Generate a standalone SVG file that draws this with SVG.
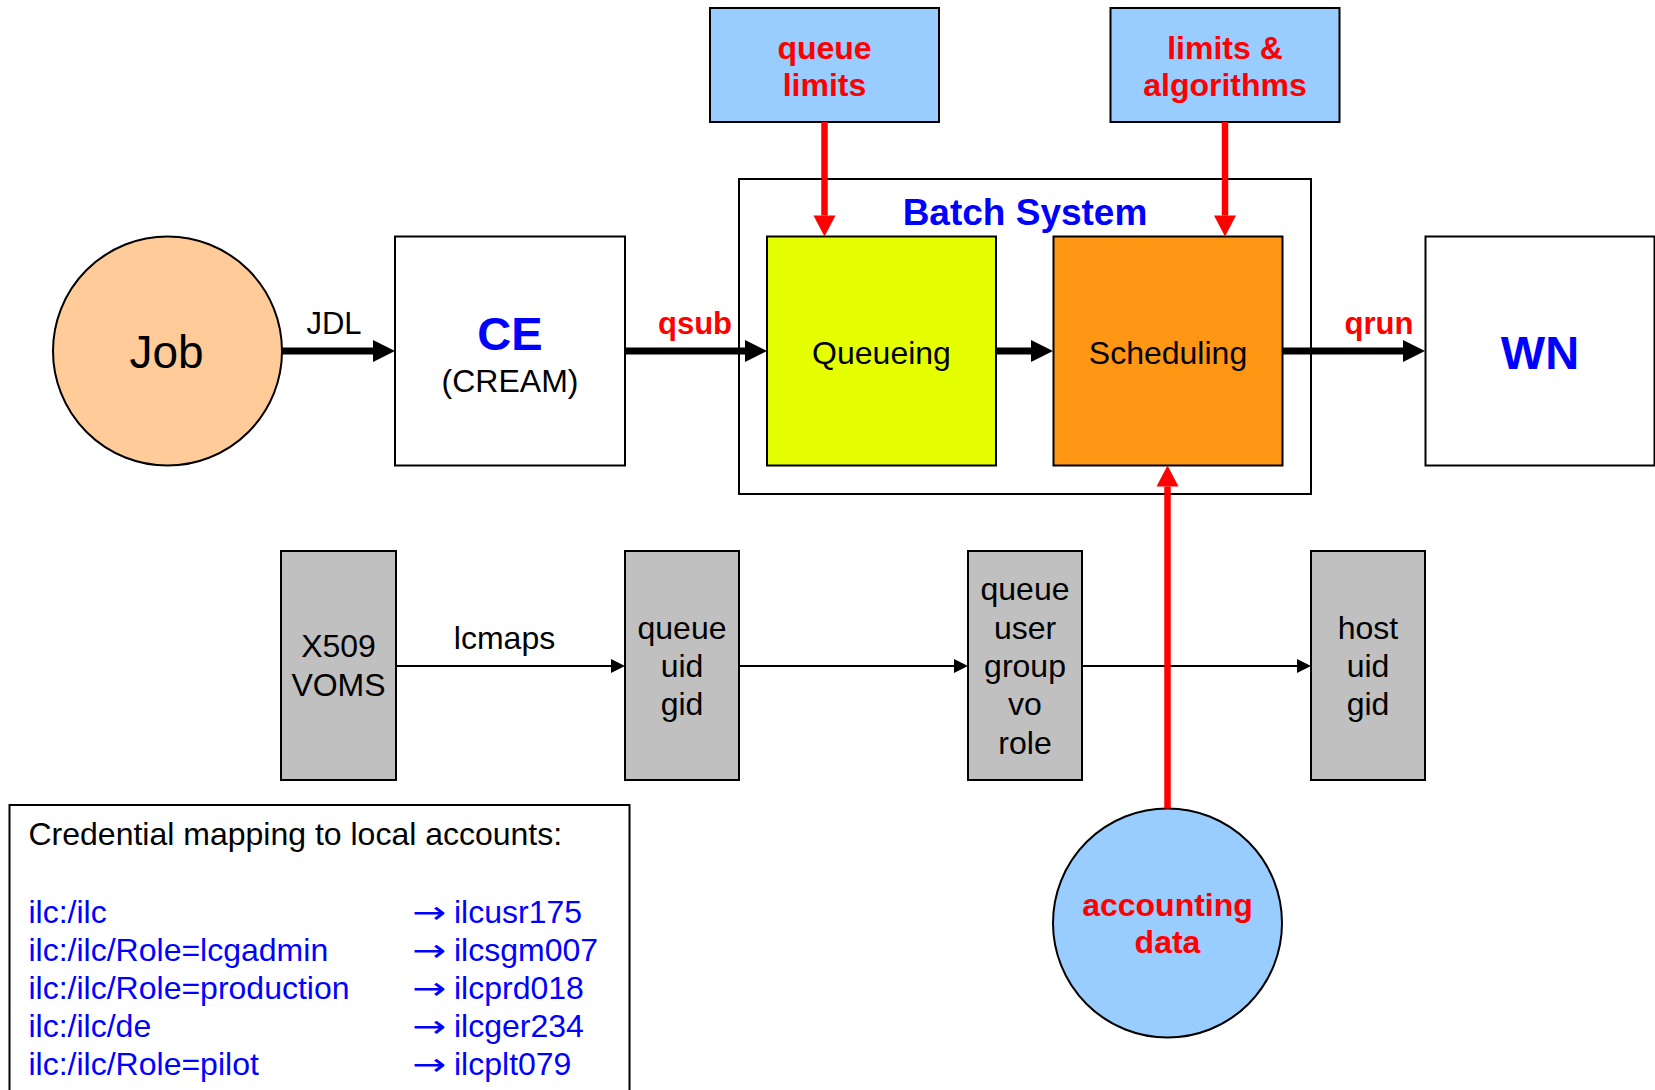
<svg xmlns="http://www.w3.org/2000/svg" width="1655" height="1090" viewBox="0 0 1655 1090">
<style>
text{font-family:"Liberation Sans",Arial,sans-serif;}
.box{stroke:#000;stroke-width:2;}
.white{fill:#fff;}
.gray{fill:#c0c0c0;}
.lb{fill:#99ccff;}
.t32{font-size:32px;fill:#000;}
.big{font-size:47px;font-weight:bold;fill:#0000ff;}
.red{font-size:32px;font-weight:bold;fill:#ff0000;}
.blue{font-size:32px;fill:#0000ff;}
.arr{font-family:"DejaVu Sans",sans-serif;font-size:31px;fill:#0000ff;}
.thick{stroke:#000;stroke-width:7;fill:none;}
.redl{stroke:#ff0000;stroke-width:6.5;fill:none;}
.thin{stroke:#000;stroke-width:2;fill:none;}
</style>
<defs>
<marker id="mBlack" markerUnits="userSpaceOnUse" markerWidth="22" markerHeight="24" refX="0" refY="11" orient="auto" overflow="visible"><path d="M0,0 L22,11 L0,22 z" fill="#000"/></marker>
<marker id="mRed" markerUnits="userSpaceOnUse" markerWidth="22" markerHeight="24" refX="0" refY="11" orient="auto" overflow="visible"><path d="M0,0 L21,11 L0,22 z" fill="#ff0000"/></marker>
<marker id="mThin" markerUnits="userSpaceOnUse" markerWidth="16" markerHeight="16" refX="0" refY="7" orient="auto" overflow="visible"><path d="M0,0 L14,7 L0,14 z" fill="#000"/></marker>
</defs>
<rect width="1655" height="1090" fill="#fff"/>

<g id="batch-system">
<rect class="box white" x="739" y="179" width="572" height="315"/>
<text x="1025" y="225" text-anchor="middle" style="font-size:37px;font-weight:bold;fill:#0000ff">Batch System</text>
</g>
<g id="queue-limits">
<rect class="box lb" x="710" y="8" width="229" height="114"/>
<text class="red" x="824.5" y="59" text-anchor="middle">queue</text>
<text class="red" x="824.5" y="96" text-anchor="middle">limits</text>
</g>
<g id="limits-algorithms">
<rect class="box lb" x="1110.5" y="8" width="229" height="114"/>
<text class="red" x="1225" y="59" text-anchor="middle">limits &amp;</text>
<text class="red" x="1225" y="96" text-anchor="middle">algorithms</text>
</g>
<g id="job">
<circle class="box" cx="167.5" cy="351" r="114.5" fill="#ffcc99"/>
<text x="166.5" y="368" text-anchor="middle" style="font-size:46px;fill:#000">Job</text>
</g>
<g id="ce">
<rect class="box white" x="395" y="236.5" width="230" height="229"/>
<text class="big" x="510" y="350" text-anchor="middle">CE</text>
<text class="t32" x="510" y="392" text-anchor="middle">(CREAM)</text>
</g>
<g id="queueing">
<rect class="box" x="767" y="236.5" width="229" height="229" fill="#e5ff00"/>
<text class="t32" x="881.5" y="364" text-anchor="middle">Queueing</text>
</g>
<g id="scheduling">
<rect class="box" x="1053.5" y="236.5" width="229" height="229" fill="#ff9714"/>
<text class="t32" x="1168" y="364" text-anchor="middle">Scheduling</text>
</g>
<g id="wn">
<rect class="box white" x="1425.5" y="236.5" width="229" height="229"/>
<text class="big" x="1540" y="369" text-anchor="middle">WN</text>
</g>
<g id="x509">
<rect class="box gray" x="281" y="551" width="115" height="229"/>
<text class="t32" x="338.5" y="657" text-anchor="middle">X509</text>
<text class="t32" x="338.5" y="696" text-anchor="middle">VOMS</text>
</g>
<g id="queue-uid-gid">
<rect class="box gray" x="625" y="551" width="114" height="229"/>
<text class="t32" x="682" y="638.5" text-anchor="middle">queue</text>
<text class="t32" x="682" y="677" text-anchor="middle">uid</text>
<text class="t32" x="682" y="715" text-anchor="middle">gid</text>
</g>
<g id="queue-user-group">
<rect class="box gray" x="968" y="551" width="114" height="229"/>
<text class="t32" x="1025" y="600" text-anchor="middle">queue</text>
<text class="t32" x="1025" y="638.5" text-anchor="middle">user</text>
<text class="t32" x="1025" y="677" text-anchor="middle">group</text>
<text class="t32" x="1025" y="715" text-anchor="middle">vo</text>
<text class="t32" x="1025" y="753.5" text-anchor="middle">role</text>
</g>
<g id="host-uid-gid">
<rect class="box gray" x="1311" y="551" width="114" height="229"/>
<text class="t32" x="1368" y="638.5" text-anchor="middle">host</text>
<text class="t32" x="1368" y="677" text-anchor="middle">uid</text>
<text class="t32" x="1368" y="715" text-anchor="middle">gid</text>
</g>
<g id="accounting">
<circle class="box lb" cx="1167.5" cy="923" r="114.5"/>
<text class="red" x="1167.5" y="916" text-anchor="middle">accounting</text>
<text class="red" x="1167.5" y="953" text-anchor="middle">data</text>
</g>
<g id="credential-mapping">
<rect class="box white" x="9.5" y="805" width="620" height="300"/>
<text class="t32" x="28.5" y="845">Credential mapping to local accounts:</text>
<text class="blue" x="28.5" y="922.5">ilc:/ilc</text>
<text class="blue" x="28.5" y="960.5">ilc:/ilc/Role=lcgadmin</text>
<text class="blue" x="28.5" y="999">ilc:/ilc/Role=production</text>
<text class="blue" x="28.5" y="1037">ilc:/ilc/de</text>
<text class="blue" x="28.5" y="1075">ilc:/ilc/Role=pilot</text>
<text class="arr" x="412" y="922.5" textLength="34" lengthAdjust="spacingAndGlyphs">→</text>
<text class="arr" x="412" y="960.5" textLength="34" lengthAdjust="spacingAndGlyphs">→</text>
<text class="arr" x="412" y="999" textLength="34" lengthAdjust="spacingAndGlyphs">→</text>
<text class="arr" x="412" y="1037" textLength="34" lengthAdjust="spacingAndGlyphs">→</text>
<text class="arr" x="412" y="1075" textLength="34" lengthAdjust="spacingAndGlyphs">→</text>
<text class="blue" x="454" y="922.5">ilcusr175</text>
<text class="blue" x="454" y="960.5">ilcsgm007</text>
<text class="blue" x="454" y="999">ilcprd018</text>
<text class="blue" x="454" y="1037">ilcger234</text>
<text class="blue" x="454" y="1075">ilcplt079</text>
</g>

<g id="connectors">
<line class="thick" x1="282" y1="351" x2="373" y2="351" marker-end="url(#mBlack)"/>
<line class="thick" x1="625" y1="351" x2="745" y2="351" marker-end="url(#mBlack)"/>
<line class="thick" x1="996" y1="351" x2="1031" y2="351" marker-end="url(#mBlack)"/>
<line class="thick" x1="1282.5" y1="351" x2="1403" y2="351" marker-end="url(#mBlack)"/>
<text class="t32" x="334" y="333.5" text-anchor="middle" style="font-size:31px">JDL</text>
<text class="red" x="695" y="333.5" text-anchor="middle" style="font-size:31px">qsub</text>
<text class="red" x="1379" y="333.5" text-anchor="middle" style="font-size:31px">qrun</text>
<line class="thin" x1="396" y1="666" x2="611" y2="666" marker-end="url(#mThin)"/>
<line class="thin" x1="739" y1="666" x2="954" y2="666" marker-end="url(#mThin)"/>
<line class="thin" x1="1082" y1="666" x2="1297" y2="666" marker-end="url(#mThin)"/>
<text class="t32" x="504.5" y="649" text-anchor="middle">lcmaps</text>
<line class="redl" x1="824.5" y1="122" x2="824.5" y2="215.5" marker-end="url(#mRed)"/>
<line class="redl" x1="1225" y1="122" x2="1225" y2="215.5" marker-end="url(#mRed)"/>
<line class="redl" x1="1167.5" y1="808.5" x2="1167.5" y2="486.5" marker-end="url(#mRed)"/>
</g>
</svg>
